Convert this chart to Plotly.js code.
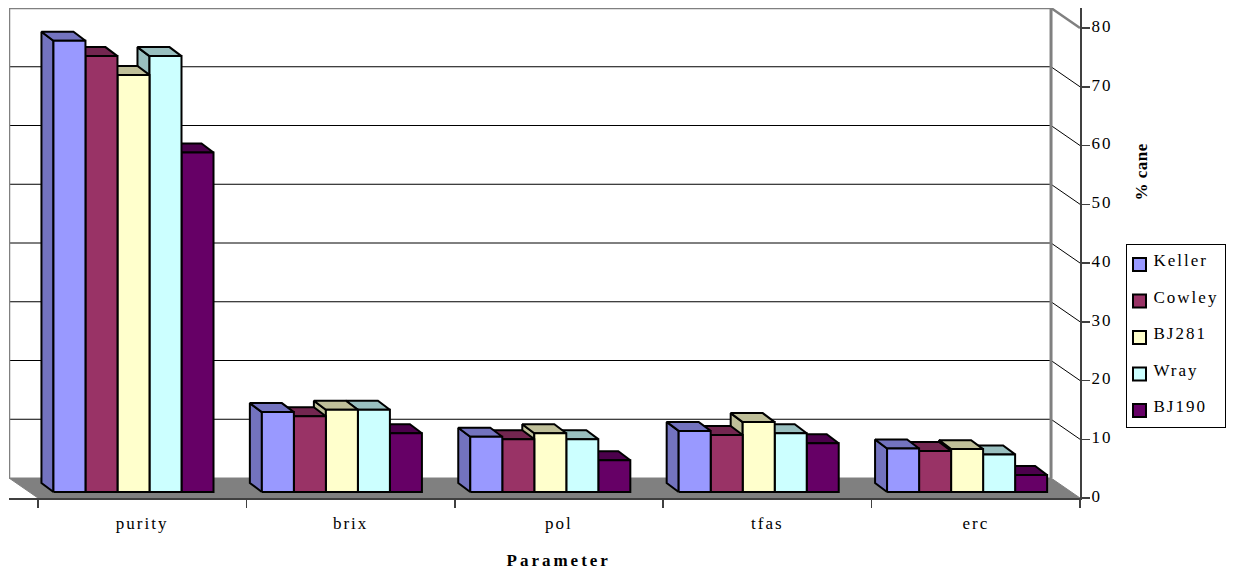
<!DOCTYPE html>
<html>
<head>
<meta charset="utf-8">
<script src="https://cdn.plot.ly/plotly-3.0.1.min.js"></script>
<style>
  html, body { margin: 0; padding: 0; background: #fff; }
  #chart { width: 1234px; height: 572px; }
  .xtick text, .ytick text, .legendtext { letter-spacing: 2px; }
  .legendtext { transform: translate(-13px, -3px); }
  .legendsymbols { transform: translate(-7px, 2px); }
  .legend rect.bg { width: 99px !important; }
  g.annotation[data-index="0"] text { letter-spacing: 3px; }
  g.annotation[data-index="1"] text { letter-spacing: 0.5px; }
</style>
</head>
<body>
<div id="chart"></div>
<script>
// Cane quality parameters by variety
const categories = ["purity", "brix", "pol", "tfas", "erc"];
const keller = [76.8, 13.6, 9.4, 10.4, 7.4];
const cowley = [74.2, 12.9, 9.0, 9.7, 7.0];
const bj281 = [71.0, 14.0, 10.0, 11.9, 7.3];
const wray = [74.2, 14.0, 9.0, 10.0, 6.4];
const bj190 = [57.8, 10.0, 5.4, 8.3, 2.9];

const seriesNames = ["Keller", "Cowley", "BJ281", "Wray", "BJ190"];
const seriesValues = [keller, cowley, bj281, wray, bj190];
const frontColors = ["#9999FF", "#993366", "#FFFFCC", "#CCFFFF", "#660066"];
const shadeColors = ["#7373BF", "#732650", "#BFBF99", "#99BFBF", "#4C004C"];
const yTicks = [0, 10, 20, 30, 40, 50, 60, 70, 80];

// Oblique projection, expressed in axis units
const wallDX = -0.139, wallDY = 3.404;   // floor depth
const barDX = -0.0576, barDY = 1.53;     // depth of one bar
const planeDX = -0.0417, planeDY = 1.02; // front faces sit slightly behind the axis
const barW = 0.1536;
const xMax = categories.length;
const yMax = yTicks[yTicks.length - 1];

const traces = [];
const poly = (x, y, fill, line, width) => traces.push({
  x, y, mode: "lines", fill: fill ? "toself" : "none", fillcolor: fill || undefined,
  line: { color: line, width }, showlegend: false, hoverinfo: "skip", cliponaxis: false
});

// Floor
poly([wallDX, wallDX + xMax, xMax, 0, wallDX], [wallDY, wallDY, 0, 0, wallDY], "#808080", "#808080", 1);

// Gridlines along the back wall and down the right-hand side
yTicks.slice(1, -1).forEach(v =>
  poly([wallDX, xMax + wallDX, xMax], [v + wallDY, v + wallDY, v], null, "#000000", 1));

// Wall frame
poly([wallDX, wallDX, xMax + wallDX, xMax], [wallDY, yMax + wallDY, yMax + wallDY, yMax], null, "#808080", 2.5);
poly([xMax + wallDX, xMax + wallDX], [wallDY, yMax + wallDY], null, "#808080", 3);

// Bars, painted right to left so nearer neighbours hide the hidden faces
categories.forEach((cat, c) => {
  for (let s = seriesValues.length - 1; s >= 0; s--) {
    const v = seriesValues[s][c];
    const x0 = c + 0.5 + planeDX + (s - 2.5) * barW, x1 = x0 + barW;
    const y0 = planeDY, y1 = planeDY + v;
    poly([x0, x0 + barDX, x0 + barDX, x0, x0], [y0, y0 + barDY, y1 + barDY, y1, y0], shadeColors[s], "#000000", 2);
    poly([x0, x0 + barDX, x1 + barDX, x1, x0], [y1, y1 + barDY, y1 + barDY, y1, y1], shadeColors[s], "#000000", 2);
    poly([x0, x1, x1, x0, x0], [y0, y0, y1, y1, y0], frontColors[s], "#000000", 2);
  }
});

// Legend entries
seriesNames.forEach((name, s) => traces.push({
  x: [null], y: [null], name, mode: "markers", legendgroup: name, hoverinfo: "skip",
  marker: { symbol: "square", size: 13, color: frontColors[s], line: { color: "#000000", width: 2 } }
}));

const serif = "Liberation Serif, Times New Roman, serif";
const layout = {
  width: 1234, height: 572,
  margin: { l: 9, r: 154, t: 8, b: 74, pad: 0 },
  paper_bgcolor: "#ffffff", plot_bgcolor: "rgba(0,0,0,0)",
  font: { family: serif, size: 17, color: "#000000" },
  hovermode: false,
  xaxis: {
    range: [wallDX, xMax], showgrid: false, zeroline: false,
    showline: true, linecolor: "#404040", linewidth: 2,
    tickmode: "array", tickvals: categories.map((_, i) => i + 0.5), ticktext: categories,
    ticks: "", ticklabelstandoff: 9,
    minor: { tickmode: "array", tickvals: categories.map((_, i) => i).concat(xMax), ticks: "outside", ticklen: 8, tickwidth: 1.5, tickcolor: "#404040", showgrid: false }
  },
  yaxis: {
    range: [0, yMax + wallDY], side: "right", showgrid: false, zeroline: false,
    showline: true, linecolor: "#404040", linewidth: 2,
    tickmode: "array", tickvals: yTicks, ticktext: yTicks.map(String),
    ticks: "outside", ticklen: 8, tickwidth: 1.5, tickcolor: "#404040", ticklabelstandoff: -2, ticklabelshift: -2
  },
  legend: {
    xref: "container", yref: "container",
    x: 1125.5 / 1234, xanchor: "left", y: 1 - 244 / 572, yanchor: "top",
    bgcolor: "#ffffff", bordercolor: "#000000", borderwidth: 1,
    tracegroupgap: 11.4, itemwidth: 30, traceorder: "grouped",
    entrywidth: 48, entrywidthmode: "pixels",
    font: { family: serif, size: 17 }
  },
  annotations: [
    { text: "<b>Parameter</b>", xref: "paper", yref: "paper", x: (559 - 9) / 1071, y: (498 - 560) / 490, showarrow: false, font: { family: serif, size: 17 }, xanchor: "center", yanchor: "middle" },
    { text: "<b>% cane</b>", xref: "paper", yref: "paper", x: (1141 - 9) / 1071, y: (498 - 172) / 490, showarrow: false, textangle: -90, font: { family: serif, size: 17 }, xanchor: "center", yanchor: "middle" }
  ]
};

Plotly.newPlot("chart", traces, layout, { displayModeBar: false, staticPlot: true });
</script>
</body>
</html>
